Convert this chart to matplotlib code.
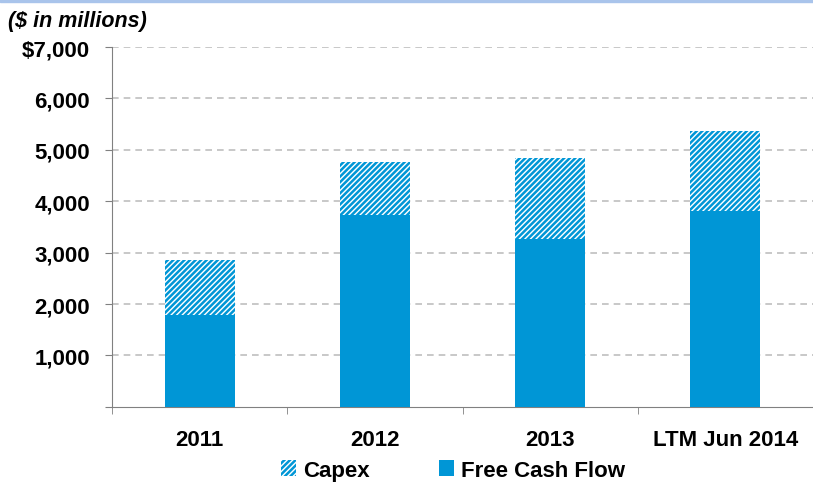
import matplotlib.pyplot as plt
from matplotlib.patches import Rectangle
from matplotlib.ticker import FuncFormatter

plt.rcParams['font.family'] = ['Liberation Sans', 'DejaVu Sans']
plt.rcParams['hatch.linewidth'] = 1.8

categories = ['2011', '2012', '2013', 'LTM Jun 2014']
fcf = [1780, 3740, 3270, 3810]
capex = [1070, 1030, 1570, 1560]

blue = '#0096D6'

fig = plt.figure(figsize=(8.13, 4.85), dpi=100)
ax = fig.add_axes([0.138, 0.159, 0.862, 0.742])

x = range(len(categories))
ax.bar(x, fcf, width=0.4, color=blue, label='Free Cash Flow', zorder=3)
ax.bar(x, capex, width=0.4, bottom=fcf, color='white', edgecolor=blue,
       hatch='//////', linewidth=0, label='Capex', zorder=3)

ax.set_xlim(-0.5, len(categories) - 0.5)
ax.set_ylim(0, 7000)
ax.set_yticks(range(0, 7001, 1000))
ax.yaxis.set_major_formatter(FuncFormatter(
    lambda v, p: '$7,000' if v == 7000 else ('' if v == 0 else f'{int(v):,}')))
for v in range(1000, 7001, 1000):
    ax.axhline(v, color='#BFBFBF', linestyle=(0, (4, 3)), linewidth=1.2, zorder=1)

ax.set_xticks(list(x))
ax.set_xticklabels(categories)
ax.set_xticks([i - 0.5 for i in range(len(categories) + 1)], minor=True)
ax.tick_params(axis='x', which='major', length=0, pad=16)
ax.tick_params(axis='x', which='minor', length=5, color='#808080', direction='out')
ax.tick_params(axis='y', length=5, color='#808080', direction='out', pad=11)
for lbl in ax.get_xticklabels() + ax.get_yticklabels():
    lbl.set_fontsize(16)
    lbl.set_fontweight('bold')

ax.spines['top'].set_visible(False)
ax.spines['right'].set_visible(False)
ax.spines['left'].set_color('#808080')
ax.spines['bottom'].set_color('#808080')

handles, labels = ax.get_legend_handles_labels()
fig.legend(handles[::-1], labels[::-1], loc='lower center', bbox_to_anchor=(0.557, -0.035),
           ncol=2, frameon=False, prop={'weight': 'bold', 'size': 16},
           handlelength=0.7, handleheight=0.7, handletextpad=0.3, columnspacing=3.1)

fig.text(0.01, 0.955, '($ in millions)', fontsize=15.5, fontweight='bold',
         fontstyle='italic', va='center')
fig.add_artist(Rectangle((0, 0.993), 1, 0.007, transform=fig.transFigure,
                         color='#A9C4EB', zorder=5))

fig.savefig('out.png', dpi=100)
